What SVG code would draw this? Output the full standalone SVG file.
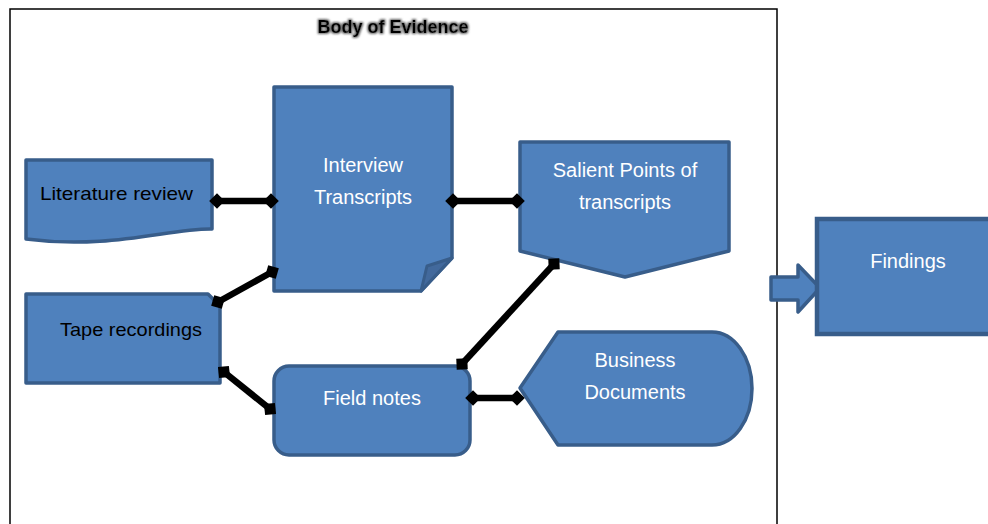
<svg xmlns="http://www.w3.org/2000/svg" width="988" height="524" viewBox="0 0 988 524">
<defs>
<style>
.shape{fill:#4F81BD;stroke:#385D8A;stroke-width:3.5;stroke-linejoin:round}
.wt{font-family:"Liberation Sans",Arial,sans-serif;font-size:20px;fill:#ffffff;text-anchor:middle}
.bt{font-family:"Liberation Sans",Arial,sans-serif;font-size:19px;fill:#000000}
.conn{stroke:#000;stroke-width:6.5;fill:none;marker-start:url(#dia);marker-end:url(#dia)}
</style>
<marker id="dia" viewBox="0 0 10 10" refX="5" refY="5" markerWidth="2.4" markerHeight="2.4" orient="auto" markerUnits="strokeWidth">
<path d="M0,5 L5,0 L10,5 L5,10 Z" fill="#000"/>
</marker>
<filter id="glow" x="-10%" y="-30%" width="120%" height="160%">
<feMorphology in="SourceAlpha" operator="dilate" radius="1.2" result="d"/>
<feGaussianBlur in="d" stdDeviation="1" result="b"/>
<feFlood flood-color="#666666"/>
<feComposite in2="b" operator="in" result="g"/>
<feMerge><feMergeNode in="g"/><feMergeNode in="SourceGraphic"/></feMerge>
</filter>
</defs>
<rect width="988" height="524" fill="#ffffff"/>
<g id="frame">
<path d="M10,524 V9 H777 V524" fill="none" stroke="#000" stroke-width="1.5"/>
<text x="393" y="33" font-family="'Liberation Sans',Arial,sans-serif" font-size="18" font-weight="bold" text-anchor="middle" fill="#000" filter="url(#glow)">Body of Evidence</text>
</g>
<g id="literature">
<path class="shape" d="M26,160 H212 V229 C170,228 110,250 26,239 Z"/>
<text class="bt" x="40" y="200" textLength="153" lengthAdjust="spacingAndGlyphs">Literature review</text>
</g>
<g id="interview">
<path class="shape" d="M274,87 H452 V258 L421,291 H274 Z"/>
<path d="M421,291 L427,266 L452,258 Z" fill="#42699C" stroke="#385D8A" stroke-width="3" stroke-linejoin="round"/>
<text class="wt" x="363" y="172">Interview</text>
<text class="wt" x="363" y="204">Transcripts</text>
</g>
<g id="salient">
<path class="shape" d="M520,142 H729 V251 L625,277 L520,251 Z"/>
<text class="wt" x="625" y="177">Salient Points of</text>
<text class="wt" x="625" y="209">transcripts</text>
</g>
<g id="tape">
<path class="shape" d="M26,294 H208 L220,306 V383 H26 Z"/>
<text class="bt" x="60" y="336" textLength="142" lengthAdjust="spacingAndGlyphs">Tape recordings</text>
</g>
<g id="field">
<rect class="shape" x="274" y="366" width="196" height="89" rx="15" ry="15"/>
<text class="wt" x="372" y="405">Field notes</text>
</g>
<g id="business">
<path class="shape" d="M520,388 L558,332 H712 A40,56.5 0 0 1 712,445 H558 Z"/>
<text class="wt" x="635" y="367">Business</text>
<text class="wt" x="635" y="399">Documents</text>
</g>
<g id="arrow">
<path class="shape" d="M771,277 H798 V265 L820,288 L798,312 V300 H771 Z"/>
</g>
<g id="findings">
<rect x="817" y="219" width="180" height="115" fill="#4F81BD" stroke="#385D8A" stroke-width="4.5"/>
<text class="wt" x="908" y="268">Findings</text>
</g>
<g id="connectors">
<line class="conn" x1="217" y1="201" x2="271" y2="201"/>
<line class="conn" x1="453" y1="201" x2="517" y2="201"/>
<line class="conn" x1="272" y1="272" x2="218" y2="302"/>
<line class="conn" x1="224" y1="372" x2="270" y2="409"/>
<line class="conn" x1="554" y1="264" x2="462" y2="364"/>
<line class="conn" x1="473" y1="398" x2="517" y2="398"/>
</g>
</svg>
